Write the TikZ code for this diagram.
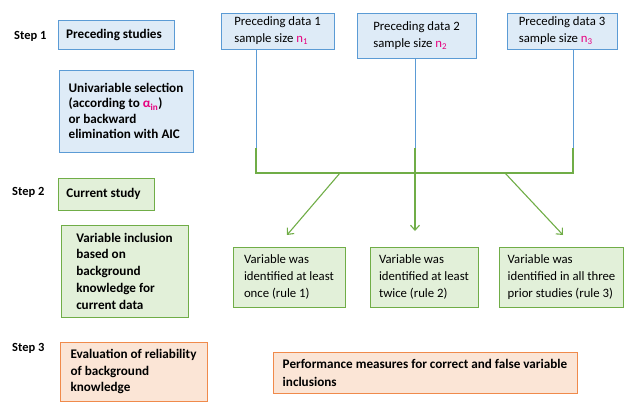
\documentclass[tikz,border=0pt]{standalone}
\usepackage{fontspec}
\setmainfont{Carlito}
\usetikzlibrary{arrows.meta}
\definecolor{bfill}{HTML}{DEEBF7}
\definecolor{bline}{HTML}{5B9BD5}
\definecolor{gfill}{HTML}{E2F0D9}
\definecolor{gline}{HTML}{70AD47}
\definecolor{ofill}{HTML}{FBE5D6}
\definecolor{oline}{HTML}{F08A4B}
\definecolor{pinkc}{HTML}{E6007E}
\newcommand{\pk}[1]{\textcolor{pinkc}{#1}}
\begin{document}
\begin{tikzpicture}[x=1bp,y=-1bp,
  every node/.style={font=\fontsize{12.8}{17}\selectfont},
  basebox/.style={draw, line width=0.8bp, rectangle, inner xsep=8bp, inner ysep=2bp, align=left},
  bluebox/.style={basebox, draw=bline, fill=bfill},
  greenbox/.style={basebox, draw=gline, fill=gfill},
  orangebox/.style={basebox, draw=oline, fill=ofill},
  steplabel/.style={anchor=west, inner sep=0pt, font=\fontsize{12.5}{14}\selectfont\bfseries},
  bconn/.style={draw=bline, line width=1bp},
  gconn/.style={draw=gline, line width=1.1bp},
  garrow/.style={draw=gline, line width=1.1bp, -{Straight Barb[length=5bp,width=9bp]}}
]
\useasboundingbox (0,0) rectangle (625,402);

% Step labels
\node[steplabel] (s1) at (14,36) {Step 1};
\node[steplabel] (s2) at (12,192) {Step 2};
\node[steplabel] (s3) at (12,348) {Step 3};

% Left column
\node[bluebox, font=\fontsize{13.2}{16}\selectfont\bfseries, minimum width=116bp, minimum height=29bp] (prec) at (116,34.5) {Preceding studies\hspace{4bp}};
\node[bluebox, font=\fontsize{13.2}{15.5}\selectfont\bfseries, minimum width=134bp, minimum height=82bp] (univ) at (126,111) {Univariable selection\\(according to \pk{α\textsubscript{in}})\\or backward\\elimination with AIC};
\node[greenbox, font=\fontsize{13.2}{16}\selectfont\bfseries, minimum width=93bp, minimum height=32bp] (cur) at (106.5,194) {Current study\hspace{6bp}};
\node[greenbox, font=\fontsize{13.2}{16.8}\selectfont\bfseries, minimum width=127bp, minimum height=92bp] (vinc) at (124.5,271) {Variable inclusion\hspace{8bp}\\based on\\background\\knowledge for\\current data};
\node[orangebox, font=\fontsize{13.2}{16.8}\selectfont\bfseries, minimum width=147bp, minimum height=59bp] (eval) at (133.5,371.5) {Evaluation of reliability\\of background\\knowledge};

% Preceding data boxes
\node[bluebox, minimum width=113bp, minimum height=36bp] (d1) at (277.5,31) {Preceding data 1\hspace{4bp}\\sample size \pk{n\textsubscript{1}}};
\node[bluebox, minimum width=119bp, minimum height=45bp] (d2) at (416.5,35.5) {Preceding data 2\hspace{8bp}\\sample size \pk{n\textsubscript{2}}};
\node[bluebox, minimum width=110bp, minimum height=36bp] (d3) at (562,31) {Preceding data 3\hspace{2bp}\\sample size \pk{n\textsubscript{3}}};

% Rule boxes
\node[greenbox, minimum width=112bp, minimum height=60bp] (r1) at (289,277) {Variable was\\identified at least\\once (rule 1)};
\node[greenbox, minimum width=108bp, minimum height=60bp] (r2) at (424,277) {Variable was\\identified at least\\twice (rule 2)};
\node[greenbox, minimum width=123bp, minimum height=60bp] (r3) at (561.5,277) {Variable was\\identified in all three\\prior studies (rule 3)};

% Performance box
\node[orangebox, font=\fontsize{13.2}{18}\selectfont\bfseries, minimum width=304bp, minimum height=41bp] (perf) at (425,372.5) {Performance measures for correct and false variable\hspace{6bp}\\inclusions};

% Junction coordinates
\coordinate (j1) at (256,148);
\coordinate (j2) at (415,148);
\coordinate (j3) at (573,148);
\coordinate (b1) at (256,173);
\coordinate (b2) at (415,173);
\coordinate (b3) at (573,173);
\coordinate (st1) at (340,173);
\coordinate (st3) at (505,173);
\coordinate (a1) at (287,235);
\coordinate (a2) at (415,231);
\coordinate (a3) at (563,235);

% Blue connectors
\draw[bconn] (d1.south -| j1) -- (j1);
\draw[bconn] (d2.south -| j2) -- (j2);
\draw[bconn] (d3.south -| j3) -- (j3);

% Green bracket
\draw[gconn] (j1) -- (b1) -- (b3) -- (j3);
\draw[gconn] (j2) -- (b2);

% Arrows
\draw[garrow] (st1) -- (a1);
\draw[garrow] (b2) -- (a2);
\draw[garrow] (st3) -- (a3);
\end{tikzpicture}
\end{document}
